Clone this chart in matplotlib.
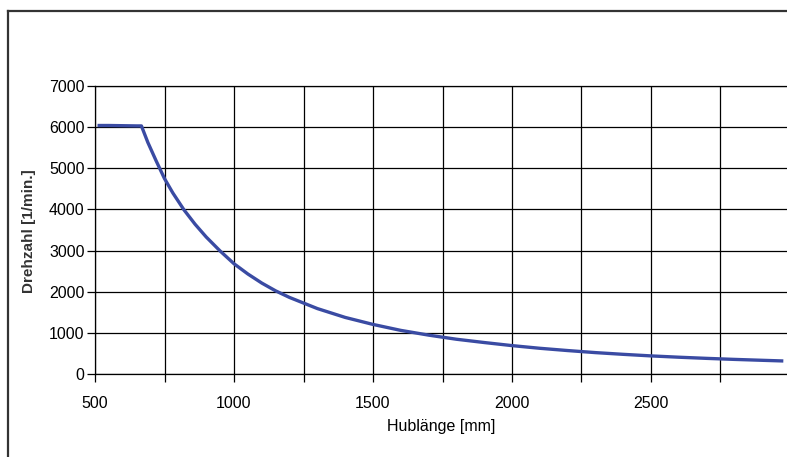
import matplotlib
matplotlib.use("Agg")
import matplotlib.pyplot as plt
from matplotlib.lines import Line2D

# Data
hublaenge = [515, 550, 600, 650, 667, 690, 720, 750, 780, 820, 860, 900, 950, 1000,
             1050, 1100, 1150, 1200, 1300, 1400, 1500, 1600, 1700, 1800, 1900, 2000,
             2100, 2200, 2300, 2400, 2500, 2600, 2700, 2800, 2900, 2970]
drehzahl = [6040, 6040, 6035, 6030, 6030, 5630, 5180, 4750, 4400, 3990, 3640, 3330, 2990, 2680,
            2430, 2210, 2020, 1860, 1590, 1375, 1205, 1060, 945, 845, 765, 690,
            625, 570, 520, 478, 440, 408, 380, 355, 333, 318]
x_ticks = [500, 750, 1000, 1250, 1500, 1750, 2000, 2250, 2500, 2750, 3000]
x_ticklabels = ["500", "", "1000", "", "1500", "", "2000", "", "2500", "", ""]
y_ticks = [0, 1000, 2000, 3000, 4000, 5000, 6000, 7000]

W, H = 787, 457
fig = plt.figure(figsize=(W / 100, H / 100), dpi=100)
x0, x1, y0, y1 = 95, 790, 374, 86
ax = fig.add_axes([x0 / W, 1 - y0 / H, (x1 - x0) / W, (y0 - y1) / H])

font = ["Liberation Sans", "DejaVu Sans"]

ax.plot(hublaenge, drehzahl, color="#3a4ba3", lw=2.4, solid_joinstyle="round", zorder=3)
ax.set_xlim(500, 3000)
ax.set_ylim(0, 7000)
ax.set_xticks(x_ticks)
ax.set_xticklabels(x_ticklabels, fontfamily=font, fontsize=11.5)
ax.set_yticks(y_ticks)
ax.set_yticklabels([str(v) for v in y_ticks], fontfamily=font, fontsize=11.5)
ax.grid(True, color="black", lw=0.9)
ax.set_axisbelow(True)
ax.tick_params(direction="out", length=6, width=0.9, color="black")
ax.tick_params(axis="y", pad=1.5)
ax.tick_params(axis="x", pad=10)
for s in ["left", "bottom", "top"]:
    ax.spines[s].set_linewidth(0.9)
    ax.spines[s].set_color("black")
ax.spines["right"].set_visible(False)

ax.set_xlabel("Hublänge [mm]", fontfamily=font, fontsize=11.5)
ax.xaxis.set_label_coords((441 - x0) / (x1 - x0), (y0 - 427) / (y0 - y1), transform=ax.transAxes)
ax.xaxis.label.set_va("center")
ax.set_ylabel("Drehzahl [1/min.]", fontfamily=["Liberation Sans Narrow", "Liberation Sans"],
              fontsize=11, fontweight="bold", color="#333333")
ax.yaxis.set_label_coords((28.5 - x0) / (x1 - x0), (y0 - 231) / (y0 - y1), transform=ax.transAxes)
ax.yaxis.label.set_va("center")

# outer frame (cropped on right and bottom)
bx, by = 7.5 / W, 1 - 11.3 / H
fig.add_artist(Line2D([bx, bx], [by, -0.01], transform=fig.transFigure, color="#333333", lw=1.6))
fig.add_artist(Line2D([bx, 1.01], [by, by], transform=fig.transFigure, color="#333333", lw=1.6))

fig.savefig("out.png", dpi=100)
